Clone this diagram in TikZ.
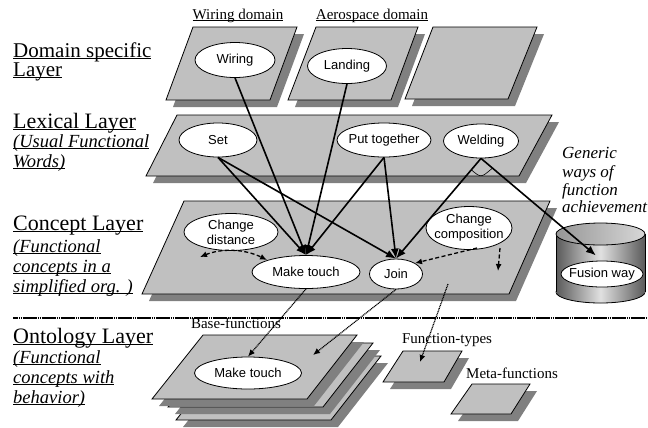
\documentclass[tikz,border=0pt]{standalone}
\usepackage{fontspec}
\setmainfont{Liberation Serif}
\setsansfont{Liberation Sans}
\usetikzlibrary{shapes.geometric,arrows.meta,calc}
\definecolor{sheetc}{RGB}{192,192,192}
\definecolor{shadowc}{RGB}{128,128,128}
\definecolor{cylD}{RGB}{90,90,90}
\definecolor{cylL}{RGB}{225,225,225}
\definecolor{topD}{RGB}{150,150,150}
\definecolor{topL}{RGB}{215,215,215}
\newcommand\myul[1]{\setbox0\hbox{#1}\rlap{\rule[-2.2bp]{\wd0}{0.9bp}}\box0}
\newcommand\mysheet[4]{\fill[shd,shift={(7,7)}] #1 -- #2 -- #3 -- #4 -- cycle;
  \filldraw[sheet] #1 -- #2 -- #3 -- #4 -- cycle;}
\begin{document}
\begin{tikzpicture}[x=1bp,y=-1bp,
  sheet/.style={fill=sheetc,draw=black,line width=0.8bp,line join=miter},
  shd/.style={fill=shadowc},
  ell/.style={ellipse,draw=black,fill=white,line width=0.8bp,inner sep=-6bp,align=center,
    font=\sffamily\fontsize{13bp}{15bp}\selectfont},
  bigd/.style={font=\fontsize{21bp}{24bp}\selectfont,inner sep=0pt,anchor=base west},
  big/.style={font=\fontsize{22bp}{24bp}\selectfont,inner sep=0pt,anchor=base west},
  sub/.style={font=\itshape\fontsize{18.5bp}{20bp}\selectfont,inner sep=0pt,anchor=base west},
  small/.style={font=\fontsize{15bp}{17bp}\selectfont,inner sep=0pt,anchor=base},
  gen/.style={font=\itshape\fontsize{17bp}{18bp}\selectfont,inner sep=0pt,anchor=base west},
  conn/.style={line width=1.6bp,-{Latex[length=10bp,width=8bp]}},
  dconn/.style={line width=1.3bp,dash pattern=on 4bp off 2.5bp,-{Latex[length=7bp,width=6bp]}},
  pconn/.style={line width=1.2bp,dash pattern=on 1bp off 0.7bp,-{Latex[length=7bp,width=6bp]}}
]
\fill[white] (0,0) rectangle (648,427);
\useasboundingbox (0,0) rectangle (648,427);

% domain sheets
\mysheet{(193,27)}{(297,27)}{(270,100)}{(166,100)}
\mysheet{(316,27)}{(418,27)}{(391,100)}{(288,100)}
\mysheet{(433,27)}{(537,27)}{(508,99)}{(405,99)}
% lexical
\mysheet{(177,115)}{(552,115)}{(519,176)}{(146,176)}
% concept
\mysheet{(184,201)}{(550,201)}{(509,294)}{(142,294)}
% ontology stack
\begin{scope}[shift={(24,21)}]
\mysheet{(203,335)}{(357,335)}{(307,399)}{(152,399)}
\end{scope}
\begin{scope}[shift={(16,8)}]
\mysheet{(203,335)}{(357,335)}{(307,399)}{(152,399)}
\end{scope}
\mysheet{(203,335)}{(357,335)}{(307,399)}{(152,399)}
\mysheet{(403,351)}{(462,351)}{(444,382)}{(383,382)}
\mysheet{(472,384)}{(530,384)}{(511,414)}{(451,414)}

% cylinder
\shade[left color=cylD,right color=cylD,middle color=cylL] (600.5,292) ellipse [x radius=44.5,y radius=11];
\draw[line width=0.8bp] (600.5,292) ellipse [x radius=44.5,y radius=11];
\shade[left color=cylD,right color=cylD,middle color=cylL] (556,234) rectangle (645,292);
\draw[line width=0.8bp] (556,234) -- (556,292) (645,234) -- (645,292);
\shade[left color=topD,right color=topL,draw=black,line width=0.8bp] (600.5,234) ellipse [x radius=44.5,y radius=11];

% small labels
\node[small] (wd) at (238,19) {\myul{Wiring domain}};
\node[small] (ad) at (372,19) {\myul{Aerospace domain}};
\node[small] (bf) at (236,328) {Base-functions};
\node[small] (ft) at (447,343) {Function-types};
\node[small] (mf) at (512,378) {Meta-functions};

% left labels
\node[bigd] (l1a) at (13,57) {\myul{Domain specific}};
\node[bigd] (l1b) at (13,76) {\myul{Layer}};
\node[big] (l2) at (13,128) {\myul{Lexical Layer}};
\node[sub] (l2a) at (13,147) {\myul{(Usual Functional}};
\node[sub] (l2b) at (13,167) {\myul{Words)}};
\node[big] (l3) at (13,230) {\myul{Concept Layer}};
\node[sub] (l3a) at (13,252) {\myul{(Functional}};
\node[sub] (l3b) at (13,272) {\myul{concepts in a}};
\node[sub] (l3c) at (13,292) {\myul{simplified org. )}};
\node[big] (l4) at (13,343) {\myul{Ontology Layer}};
\node[sub] (l4a) at (13,363) {\myul{(Functional}};
\node[sub] (l4b) at (13,383) {\myul{concepts with}};
\node[sub] (l4c) at (13,403) {\myul{behavior)}};

\node[gen] (g1) at (562,158) {Generic};
\node[gen] (g2) at (562,177) {ways of};
\node[gen] (g3) at (562,195) {function};
\node[gen] (g4) at (562,212) {achievement};

% ellipses
\node[ell,minimum width=80bp,minimum height=35bp] (wiring) at (235,60) {Wiring};
\node[ell,minimum width=79bp,minimum height=35bp] (landing) at (347,66) {Landing};
\node[ell,minimum width=78bp,minimum height=34bp] (set) at (218,140) {Set};
\node[ell,minimum width=94bp,minimum height=34bp] (puttog) at (384,140) {Put together};
\node[ell,minimum width=75bp,minimum height=34bp] (weld) at (481,141) {Welding};
\node[ell,minimum width=94bp,minimum height=37bp] (cdist) at (231,232) {Change\\distance};
\node[ell,minimum width=108bp,minimum height=33bp] (mt) at (306,272) {Make touch};
\node[ell,minimum width=53bp,minimum height=30bp] (join) at (396,274) {Join};
\node[ell,minimum width=86bp,minimum height=43bp] (ccomp) at (469,228) {Change\\composition};
\node[ell,minimum width=82bp,minimum height=26bp] (fusion) at (602,274) {Fusion way};
\node[ell,minimum width=107bp,minimum height=32bp] (omt) at (248,373) {Make touch};

% solid connectors
\draw[conn] (wiring.south) -- (mt.north);
\draw[conn] (landing.south) -- (mt.north);
\draw[conn] (set.south) -- (mt.north);
\draw[conn] (set.south) -- (join.north);
\draw[conn] (puttog.south) -- (mt.north);
\draw[conn] (puttog.south) -- (join.north);
\draw[conn] (weld.south) -- (join.north);
\draw[conn,shorten >=8bp] (weld.south) -- (fusion.north);
\coordinate (wa) at ($(weld.south)!15bp!(join.north)$);
\coordinate (wb) at ($(weld.south)!15bp!(fusion.north)$);
\draw[line width=0.6bp] (wa) .. controls (481,178) .. (wb);

% dashed connectors
\coordinate (cdA) at (200,257);
\coordinate (cdB) at (267,260);
\draw[dconn,{Latex[length=7bp,width=6bp]}-{Latex[length=7bp,width=6bp]}] (cdA) .. controls (222,248) and (245,249) .. (cdB);
\coordinate (ccA) at (477,248);
\draw[dconn] (ccA) -- (join.north east);
\coordinate (ccB) at (500,248);
\coordinate (ccC) at (498,271);
\draw[dconn] (ccB) -- (ccC);

% dotted connectors
\coordinate (sepL) at (13,318);
\coordinate (sepR) at (648,318);
\draw[line width=1.2bp,dash pattern=on 1.6bp off 0.3bp] (sepL) -- (sepR);
\draw[pconn] (mt.south) -- (omt.north);
\coordinate (ob) at (313,355);
\draw[pconn] (join.south) -- (ob);
\coordinate (fa) at (448,284);
\coordinate (fb) at (420,362);
\draw[pconn] (fa) -- (fb);
\end{tikzpicture}
\end{document}
